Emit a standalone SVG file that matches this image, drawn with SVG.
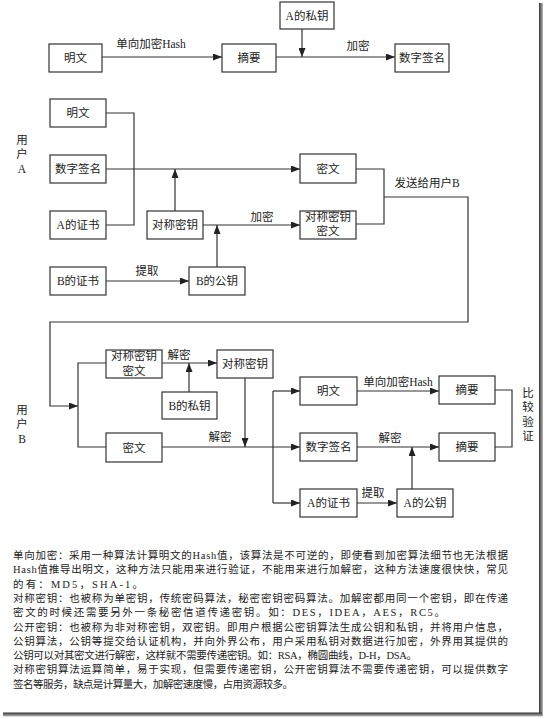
<svg xmlns="http://www.w3.org/2000/svg" width="544" height="719" viewBox="0 0 544 719">
<style>
.bx rect{fill:#fff;stroke:#333;stroke-width:1.2}
text{font-family:"Liberation Serif","Noto Sans CJK SC",serif;fill:#222}
.bx text,.lb{font-size:11.5px;text-anchor:middle;dominant-baseline:central}
.cn path,.cn line,.cn polyline{fill:none;stroke:#333;stroke-width:1.2}
.ar{marker-end:url(#ah)}
.tx{font-size:10.5px}
</style>
<defs>
<marker id="ah" markerUnits="userSpaceOnUse" markerWidth="9" markerHeight="7" refX="9" refY="3.5" orient="auto">
<path d="M0,0 L9,3.5 L0,7 z" fill="#222"/>
</marker>
<linearGradient id="sr" x1="0" x2="1" y1="0" y2="0"><stop offset="0" stop-color="#333"/><stop offset="1" stop-color="#bbb"/></linearGradient>
<linearGradient id="sb" x1="0" x2="0" y1="0" y2="1"><stop offset="0" stop-color="#333"/><stop offset="1" stop-color="#bbb"/></linearGradient>
</defs>
<rect width="544" height="719" fill="#fff"/>
<rect x="539" y="3" width="4" height="713" fill="url(#sr)"/>
<rect x="3" y="712.5" width="539" height="4" fill="url(#sb)"/>

<g class="cn">
<line class="ar" x1="102" y1="57" x2="222" y2="57"/>
<line class="ar" x1="276" y1="57" x2="395" y2="57"/>
<line class="ar" x1="302" y1="29" x2="302" y2="57"/>
<polyline points="106,113 134,113 134,225 106,225"/>
<line class="ar" x1="106" y1="169" x2="300" y2="169"/>
<line class="ar" x1="175" y1="211" x2="175" y2="169"/>
<line class="ar" x1="203" y1="225" x2="300" y2="225"/>
<line class="ar" x1="217" y1="267" x2="217" y2="225"/>
<line class="ar" x1="106" y1="281" x2="189" y2="281"/>
<polyline points="356,169 384,169 384,224 356,224"/>
<polyline class="ar" points="384,197 468,197 468,322 50,322 50,406 78,406"/>
<polyline points="106,363 78,363 78,447 106,447"/>
<line class="ar" x1="162" y1="363" x2="217" y2="363"/>
<line class="ar" x1="189" y1="392" x2="189" y2="363"/>
<line class="ar" x1="245" y1="378" x2="245" y2="447"/>
<line class="ar" x1="162" y1="447" x2="300" y2="447"/>
<line x1="273" y1="391" x2="273" y2="503"/>
<line class="ar" x1="273" y1="391" x2="300" y2="391"/>
<line class="ar" x1="273" y1="503" x2="300" y2="503"/>
<line class="ar" x1="357" y1="391" x2="439" y2="391"/>
<line class="ar" x1="357" y1="447" x2="439" y2="447"/>
<line class="ar" x1="412" y1="489" x2="412" y2="447"/>
<line class="ar" x1="357" y1="503" x2="397" y2="503"/>
<polyline points="495,390 512,390 512,447 495,447"/>
</g>

<g id="n-top-mingwen" class="bx"><rect x="49" y="44" width="53" height="28"/><text x="75.5" y="58">明文</text></g>
<g id="n-top-zhaiyao" class="bx"><rect x="222" y="44" width="54" height="28"/><text x="249" y="58">摘要</text></g>
<g id="n-top-qianming" class="bx"><rect x="395" y="44" width="54" height="28"/><text x="422" y="58">数字签名</text></g>
<g id="n-top-asiyao" class="bx"><rect x="280" y="2" width="54" height="27"/><text x="307" y="15.5">A的私钥</text></g>

<g id="n-a-mingwen" class="bx"><rect x="50" y="99" width="56" height="28"/><text x="78" y="113">明文</text></g>
<g id="n-a-qianming" class="bx"><rect x="50" y="155" width="56" height="28"/><text x="78" y="169">数字签名</text></g>
<g id="n-a-zhengshu" class="bx"><rect x="50" y="211" width="56" height="28"/><text x="78" y="225">A的证书</text></g>
<g id="n-a-duichen" class="bx"><rect x="147" y="211" width="56" height="28"/><text x="175" y="225">对称密钥</text></g>
<g id="n-a-bzhengshu" class="bx"><rect x="50" y="267" width="56" height="28"/><text x="78" y="281">B的证书</text></g>
<g id="n-a-bgongyao" class="bx"><rect x="189" y="267" width="56" height="28"/><text x="217" y="281">B的公钥</text></g>
<g id="n-a-miwen" class="bx"><rect x="300" y="154" width="56" height="29"/><text x="328" y="169">密文</text></g>
<g id="n-a-dcmiwen" class="bx"><rect x="300" y="211" width="56" height="28"/><text x="328" y="216.5">对称密钥</text><text x="328" y="231">密文</text></g>

<g id="n-b-dcmiwen" class="bx"><rect x="106" y="350" width="56" height="28"/><text x="134" y="355.5">对称密钥</text><text x="134" y="371">密文</text></g>
<g id="n-b-duichen" class="bx"><rect x="217" y="350" width="56" height="28"/><text x="245" y="364">对称密钥</text></g>
<g id="n-b-bsiyao" class="bx"><rect x="162" y="392" width="55" height="27"/><text x="189.5" y="405.5">B的私钥</text></g>
<g id="n-b-miwen" class="bx"><rect x="106" y="433" width="56" height="29"/><text x="134" y="447.5">密文</text></g>
<g id="n-b-mingwen" class="bx"><rect x="300" y="377" width="57" height="28"/><text x="328.5" y="391">明文</text></g>
<g id="n-b-qianming" class="bx"><rect x="300" y="433" width="57" height="28"/><text x="328.5" y="447">数字签名</text></g>
<g id="n-b-zhengshu" class="bx"><rect x="300" y="489" width="57" height="28"/><text x="328.5" y="503">A的证书</text></g>
<g id="n-b-agongyao" class="bx"><rect x="397" y="489" width="56" height="28"/><text x="425" y="503">A的公钥</text></g>
<g id="n-b-zhaiyao1" class="bx"><rect x="439" y="376" width="56" height="28"/><text x="467" y="390">摘要</text></g>
<g id="n-b-zhaiyao2" class="bx"><rect x="439" y="433" width="56" height="28"/><text x="467" y="447">摘要</text></g>

<g id="labels">
<text class="lb" x="151" y="44">单向加密Hash</text>
<text class="lb" x="358" y="46">加密</text>
<text class="lb" x="22" y="140">用</text><text class="lb" x="22" y="154">户</text><text class="lb" x="22" y="169">A</text>
<text class="lb" x="262" y="217">加密</text>
<text class="lb" x="147" y="271">提取</text>
<text class="lb" x="427" y="183">发送给用户B</text>
<text class="lb" x="22" y="410">用</text><text class="lb" x="22" y="424">户</text><text class="lb" x="22" y="439">B</text>
<text class="lb" x="179" y="355">解密</text>
<text class="lb" x="220" y="437">解密</text>
<text class="lb" x="398" y="382">单向加密Hash</text>
<text class="lb" x="390" y="438">解密</text>
<text class="lb" x="373" y="493">提取</text>
<text class="lb" x="528" y="393">比</text><text class="lb" x="528" y="407">较</text><text class="lb" x="528" y="422">验</text><text class="lb" x="528" y="436">证</text>
</g>

<g id="notes" class="tx">
<text x="13" y="559" textLength="495" lengthAdjust="spacing">单向加密：采用一种算法计算明文的Hash值，该算法是不可逆的，即使看到加密算法细节也无法根据</text>
<text x="13" y="573.3" textLength="495" lengthAdjust="spacing">Hash值推导出明文，这种方法只能用来进行验证，不能用来进行加解密，这种方法速度很快快，常见</text>
<text x="13" y="587.6" textLength="130" lengthAdjust="spacing">的有：MD5，SHA-1。</text>
<text x="13" y="601.9" textLength="495" lengthAdjust="spacing">对称密钥：也被称为单密钥，传统密码算法，秘密密钥密码算法。加解密都用同一个密钥，即在传递</text>
<text x="13" y="616.2" textLength="432" lengthAdjust="spacing">密文的时候还需要另外一条秘密信道传递密钥。如：DES，IDEA，AES，RC5。</text>
<text x="13" y="630.5" textLength="495" lengthAdjust="spacing">公开密钥：也被称为非对称密钥，双密钥。即用户根据公密钥算法生成公钥和私钥，并将用户信息，</text>
<text x="13" y="644.8" textLength="495" lengthAdjust="spacing">公钥算法，公钥等提交给认证机构，并向外界公布，用户采用私钥对数据进行加密，外界用其提供的</text>
<text x="13" y="659.1" textLength="404" lengthAdjust="spacing">公钥可以对其密文进行解密，这样就不需要传递密钥。如：RSA，椭圆曲线，D-H，DSA。</text>
<text x="13" y="673.4" textLength="495" lengthAdjust="spacing">对称密钥算法运算简单，易于实现，但需要传递密钥，公开密钥算法不需要传递密钥，可以提供数字</text>
<text x="13" y="687.7" textLength="280" lengthAdjust="spacing">签名等服务，缺点是计算量大，加解密速度慢，占用资源较多。</text>
</g>
</svg>
